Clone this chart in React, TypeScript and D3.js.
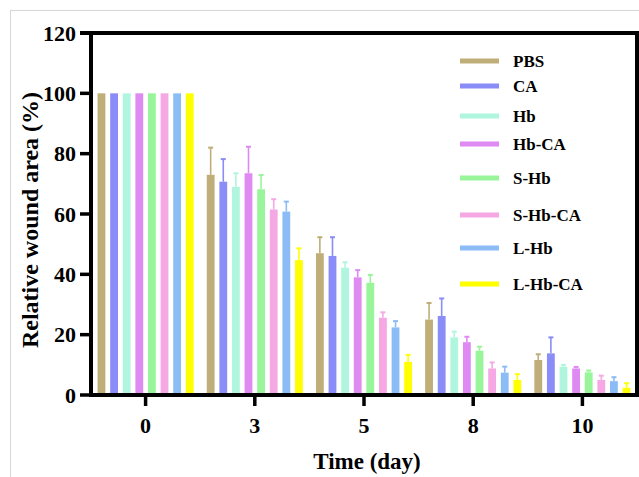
import React from "react";
import * as d3 from "d3";

const days = ["0", "3", "5", "8", "10"];
const groups = ["PBS", "CA", "Hb", "Hb-CA", "S-Hb", "S-Hb-CA", "L-Hb", "L-Hb-CA"];
const colors = ["#bfae78", "#8a8cf7", "#b0f5de", "#de8af2", "#99f59a", "#f5a8e3", "#8cbcf5", "#ffff00"];

// values per group, in order of days
const PBS = [100, 73, 47, 25, 11.6];
const CA = [100, 70.7, 46.1, 26.2, 13.8];
const Hb = [100, 69, 42.2, 19.1, 9.4];
const HbCA = [100, 73.5, 39, 17.5, 8.8];
const SHb = [100, 68.2, 37.2, 14.7, 7.5];
const SHbCA = [100, 61.5, 25.6, 8.8, 5];
const LHb = [100, 60.8, 22.4, 7.4, 4.6];
const LHbCA = [100, 44.7, 11, 5, 2.4];

const errPBS = [0, 9, 5.3, 5.5, 1.9];
const errCA = [0, 7.5, 6.2, 5.8, 5.3];
const errHb = [0, 4.5, 1.8, 1.9, 0.6];
const errHbCA = [0, 8.8, 2.4, 1.8, 0.5];
const errSHb = [0, 4.7, 2.6, 1.3, 0.6];
const errSHbCA = [0, 3.4, 1.8, 2.0, 1.4];
const errLHb = [0, 3.3, 2.1, 2.0, 1.3];
const errLHbCA = [0, 3.9, 2.3, 1.9, 1.5];

const yTicks = [0, 20, 40, 60, 80, 100, 120];

const values = [PBS, CA, Hb, HbCA, SHb, SHbCA, LHb, LHbCA];
const errors = [errPBS, errCA, errHb, errHbCA, errSHb, errSHbCA, errLHb, errLHbCA];

// layout
const W = 639;
const H = 477;
const left = 91;
const right = 637;
const top = 33;
const bottom = 395;
const legendYs = [61, 86, 116, 144, 178, 215, 248, 284];
const font = "'Liberation Serif', 'Times New Roman', serif";

export default function App() {
  const x = d3.scaleBand<string>().domain(days).range([left, right]).padding(0);
  const xi = d3
    .scaleBand<string>()
    .domain(groups)
    .range([0, x.bandwidth()])
    .paddingInner(0.38)
    .paddingOuter(0.52);
  const y = d3.scaleLinear().domain([0, 120]).range([bottom, top]);
  const bw = xi.bandwidth();

  return (
    <svg
      width={W}
      height={H}
      style={{ position: "absolute", left: 0, top: 0, background: "#fff" }}
      fontFamily={font}
      fontWeight="bold"
    >
      <rect x={10.5} y={10.5} width={W} height={H} fill="#fff" stroke="#d6d6d6" strokeWidth={1} />

      {days.map((d, di) =>
        groups.map((g, gi) => {
          const v = values[gi][di];
          const e = errors[gi][di];
          const bx = (x(d) as number) + (xi(g) as number);
          const cx = bx + bw / 2;
          return (
            <g key={d + g}>
              <rect x={bx} y={y(v)} width={bw} height={bottom - y(v)} fill={colors[gi]} />
              {e > 0 && (
                <g stroke={colors[gi]} strokeWidth={1.6}>
                  <line x1={cx} x2={cx} y1={y(v)} y2={y(v + e)} />
                  <line x1={cx - 2.5} x2={cx + 2.5} y1={y(v + e)} y2={y(v + e)} strokeWidth={2} />
                </g>
              )}
            </g>
          );
        })
      )}

      {/* frame */}
      <g stroke="#000" strokeWidth={4} fill="none">
        <line x1={left} x2={left} y1={top - 2} y2={bottom + 2} />
        <line x1={left - 2} x2={right + 2} y1={bottom} y2={bottom} />
        <line x1={80} x2={right + 2} y1={top} y2={top} />
        <line x1={right} x2={right} y1={top - 2} y2={bottom + 2} />
      </g>

      {/* y ticks */}
      {yTicks.map((t) => (
        <g key={t}>
          <line x1={80} x2={left} y1={y(t)} y2={y(t)} stroke="#000" strokeWidth={3.5} />
          <text x={76} y={y(t)} dy="0.35em" textAnchor="end" fontSize={22}>
            {t}
          </text>
        </g>
      ))}

      {/* x ticks */}
      {days.map((d) => {
        const cx = (x(d) as number) + x.bandwidth() / 2;
        return (
          <g key={d}>
            <line x1={cx} x2={cx} y1={bottom} y2={406} stroke="#000" strokeWidth={3.5} />
            <text x={cx} y={433} textAnchor="middle" fontSize={22}>
              {d}
            </text>
          </g>
        );
      })}

      <text x={(left + right) / 2 + 3} y={469} textAnchor="middle" fontSize={23}>
        Time (day)
      </text>
      <text
        transform={`translate(38, ${(top + bottom) / 2 + 6}) rotate(-90)`}
        textAnchor="middle"
        fontSize={24}
      >
        Relative wound area (%)
      </text>

      {/* legend */}
      {groups.map((g, gi) => (
        <g key={g}>
          <line x1={460} x2={499} y1={legendYs[gi]} y2={legendYs[gi]} stroke={colors[gi]} strokeWidth={5} />
          <text x={513} y={legendYs[gi]} dy="0.35em" fontSize={17}>
            {g}
          </text>
        </g>
      ))}
    </svg>
  );
}
